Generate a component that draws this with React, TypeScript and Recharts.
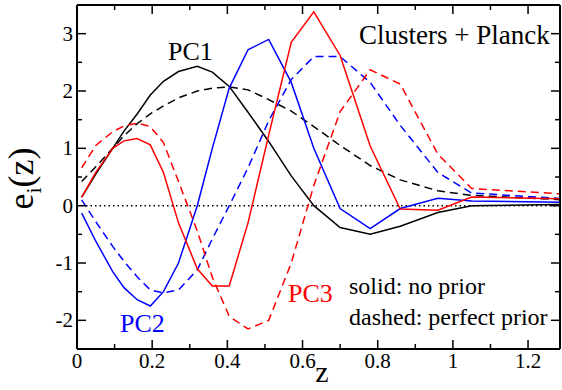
import React from 'react';
import { LineChart, Line, XAxis, YAxis, ReferenceLine } from 'recharts';

// redshift sampling points
const zGrid = [0.0125, 0.05, 0.095, 0.125, 0.16, 0.195, 0.23, 0.27, 0.32, 0.36, 0.405, 0.455, 0.51, 0.57, 0.63, 0.7, 0.78, 0.86, 0.96, 1.05, 1.3];

// solid: no prior, dashed: perfect prior
const pc1Solid = [0.15, 0.55, 1.0, 1.3, 1.6, 1.93, 2.17, 2.34, 2.43, 2.33, 2.08, 1.63, 1.12, 0.52, 0.0, -0.38, -0.5, -0.36, -0.12, 0.0, 0.02];
const pc1Dashed = [0.42, 0.68, 1.0, 1.22, 1.43, 1.6, 1.74, 1.88, 2.0, 2.05, 2.07, 2.02, 1.85, 1.65, 1.38, 1.05, 0.7, 0.45, 0.26, 0.18, 0.1];
const pc2Solid = [-0.13, -0.62, -1.15, -1.43, -1.64, -1.75, -1.5, -1.0, 0.0, 1.0, 2.05, 2.72, 2.9, 2.15, 1.0, -0.05, -0.4, -0.05, 0.13, 0.08, 0.06];
const pc2Dashed = [0.1, -0.28, -0.71, -0.97, -1.24, -1.47, -1.52, -1.47, -1.12, -0.58, 0.0, 0.66, 1.48, 2.2, 2.6, 2.6, 2.15, 1.4, 0.58, 0.22, 0.12];
const pc3Solid = [0.15, 0.58, 1.0, 1.13, 1.17, 1.06, 0.58, -0.3, -1.1, -1.4, -1.4, -0.3, 1.23, 2.85, 3.38, 2.62, 1.04, -0.06, -0.08, 0.15, 0.12];
const pc3Dashed = [0.66, 1.05, 1.29, 1.39, 1.44, 1.38, 1.1, 0.42, -0.44, -1.25, -1.93, -2.15, -2.0, -1.0, 0.35, 1.64, 2.37, 2.12, 0.9, 0.3, 0.2];

const xTicks = [0, 0.1, 0.2, 0.3, 0.4, 0.5, 0.6, 0.7, 0.8, 0.9, 1.0, 1.1, 1.2];
const xTickLabels = ['0', '', '0.2', '', '0.4', '', '0.6', '', '0.8', '', '1', '', '1.2'];
const yTicks = [-2, -1.5, -1, -0.5, 0, 0.5, 1, 1.5, 2, 2.5, 3];
const yTickLabels = ['-2', '', '-1', '', '0', '', '1', '', '2', '', '3'];

const data = zGrid.map((z, i) => ({
  z,
  pc1s: pc1Solid[i],
  pc1d: pc1Dashed[i],
  pc2s: pc2Solid[i],
  pc2d: pc2Dashed[i],
  pc3s: pc3Solid[i],
  pc3d: pc3Dashed[i],
}));

const FONT = '"Liberation Serif", "DejaVu Serif", serif';
const TICK_FS = 21;
const MAJOR = 9;
const MINOR = 5;

const xLabelOf = (v: number) => {
  const i = xTicks.findIndex((t) => Math.abs(t - v) < 1e-6);
  return i >= 0 ? xTickLabels[i] : '';
};
const yLabelOf = (v: number) => {
  const i = yTicks.findIndex((t) => Math.abs(t - v) < 1e-6);
  return i >= 0 ? yTickLabels[i] : '';
};

const BottomTick = (props: any) => {
  const { x, y, payload } = props;
  const lab = xLabelOf(payload.value);
  const len = lab ? MAJOR : MINOR;
  return (
    <g>
      <line x1={x} x2={x} y1={y} y2={y - len} stroke="#000" strokeWidth={1.5} />
      {lab && (
        <text x={x} y={y + 19} textAnchor="middle" fontFamily={FONT} fontSize={TICK_FS} fill="#000">
          {lab}
        </text>
      )}
    </g>
  );
};

const TopTick = (props: any) => {
  const { x, y, payload } = props;
  const lab = xLabelOf(payload.value);
  const len = lab ? MAJOR : MINOR;
  return <line x1={x} x2={x} y1={y} y2={y + len} stroke="#000" strokeWidth={1.5} />;
};

const LeftTick = (props: any) => {
  const { x, y, payload } = props;
  const lab = yLabelOf(payload.value);
  const len = lab ? MAJOR : MINOR;
  return (
    <g>
      <line x1={x} x2={x + len} y1={y} y2={y} stroke="#000" strokeWidth={1.5} />
      {lab && (
        <text x={x - 4} y={y + 7} textAnchor="end" fontFamily={FONT} fontSize={TICK_FS} fill="#000">
          {lab}
        </text>
      )}
    </g>
  );
};

const RightTick = (props: any) => {
  const { x, y, payload } = props;
  const lab = yLabelOf(payload.value);
  const len = lab ? MAJOR : MINOR;
  return <line x1={x} x2={x - len} y1={y} y2={y} stroke="#000" strokeWidth={1.5} />;
};

const X_DOMAIN: [number, number] = [0, 1.285];
const Y_DOMAIN: [number, number] = [-2.5, 3.5];
const axisLine = { stroke: '#000', strokeWidth: 2 };
const DASH = '8 5';

export default function App() {
  return (
    <div style={{ position: 'absolute', left: 0, top: 0, width: 562, height: 390, background: '#fff' }}>
      <LineChart width={562} height={390} data={data} margin={{ top: 4, right: 1, bottom: 0, left: 0 }}>
        <XAxis
          xAxisId="b"
          dataKey="z"
          type="number"
          domain={X_DOMAIN}
          allowDataOverflow
          ticks={xTicks}
          interval={0}
          height={41}
          tickSize={0}
          tickMargin={0}
          tickLine={false}
          axisLine={axisLine}
          tick={<BottomTick />}
        />
        <XAxis
          xAxisId="t"
          orientation="top"
          dataKey="z"
          type="number"
          domain={X_DOMAIN}
          allowDataOverflow
          ticks={xTicks}
          interval={0}
          height={1}
          tickSize={0}
          tickMargin={0}
          tickLine={false}
          axisLine={axisLine}
          tick={<TopTick />}
        />
        <YAxis
          yAxisId="l"
          type="number"
          domain={Y_DOMAIN}
          allowDataOverflow
          ticks={yTicks}
          interval={0}
          width={77}
          tickSize={0}
          tickMargin={0}
          tickLine={false}
          axisLine={axisLine}
          tick={<LeftTick />}
        />
        <YAxis
          yAxisId="r"
          orientation="right"
          type="number"
          domain={Y_DOMAIN}
          allowDataOverflow
          ticks={yTicks}
          interval={0}
          width={1}
          tickSize={0}
          tickMargin={0}
          tickLine={false}
          axisLine={axisLine}
          tick={<RightTick />}
        />
        <ReferenceLine xAxisId="b" yAxisId="l" y={0} stroke="#000" strokeWidth={1.5} strokeDasharray="1.5 3" />
        <Line xAxisId="b" yAxisId="l" dataKey="pc1d" stroke="#000" strokeWidth={1.5} strokeDasharray={DASH} dot={false} activeDot={false} isAnimationActive={false} />
        <Line xAxisId="b" yAxisId="l" dataKey="pc1s" stroke="#000" strokeWidth={1.5} dot={false} activeDot={false} isAnimationActive={false} />
        <Line xAxisId="b" yAxisId="l" dataKey="pc2d" stroke="#0000ff" strokeWidth={1.5} strokeDasharray={DASH} dot={false} activeDot={false} isAnimationActive={false} />
        <Line xAxisId="b" yAxisId="l" dataKey="pc2s" stroke="#0000ff" strokeWidth={1.5} dot={false} activeDot={false} isAnimationActive={false} />
        <Line xAxisId="b" yAxisId="l" dataKey="pc3d" stroke="#ff0000" strokeWidth={1.5} strokeDasharray={DASH} dot={false} activeDot={false} isAnimationActive={false} />
        <Line xAxisId="b" yAxisId="l" dataKey="pc3s" stroke="#ff0000" strokeWidth={1.5} dot={false} activeDot={false} isAnimationActive={false} />
      </LineChart>
      <svg width={562} height={390} style={{ position: 'absolute', left: 0, top: 0, pointerEvents: 'none' }}>
        <g fontFamily={FONT}>
          <text x={168} y={60} fontSize={26} fill="#000">PC1</text>
          <text x={120} y={331.5} fontSize={26} fill="#0000ff">PC2</text>
          <text x={288} y={301.5} fontSize={26} fill="#ff0000">PC3</text>
          <text x={359} y={44} fontSize={27} fill="#000">Clusters + Planck</text>
          <text x={349} y={294} fontSize={24} fill="#000">solid: no prior</text>
          <text x={349} y={324.5} fontSize={24} fill="#000">dashed: perfect prior</text>
          <text x={322} y={382} fontSize={30} textAnchor="middle" fill="#000">z</text>
          <text transform="translate(33,178.5) rotate(-90)" textAnchor="middle" fontSize={36} fill="#000">
            e<tspan fontSize={22} dy={8}>i</tspan><tspan dy={-8}>(z)</tspan>
          </text>
        </g>
      </svg>
    </div>
  );
}
